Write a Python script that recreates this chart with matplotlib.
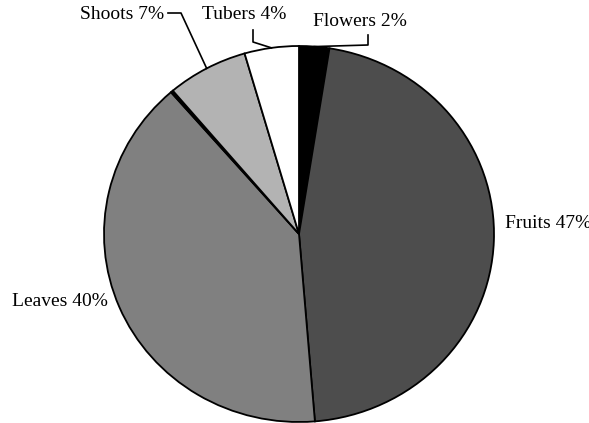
import numpy as np
import matplotlib
matplotlib.use("Agg")
import matplotlib.pyplot as plt

# Data (clockwise from 12 o'clock)
categories = ["Flowers", "Fruits", "Leaves", "", "Shoots", "Tubers"]
shares = [2.5, 46.2, 39.9, 0.2, 6.7, 4.5]
labels = ["Flowers 2%", "Fruits 47%", "Leaves 40%", "", "Shoots 7%", "Tubers 4%"]
colors = ["#000000", "#4d4d4d", "#808080", "#000000", "#b3b3b3", "#ffffff"]

W, H = 589, 423
fig = plt.figure(figsize=(W / 100, H / 100), dpi=100)
# pie bounding box in pixels
px0, px1, py0, py1 = 104, 494, 46, 422
ax = fig.add_axes([px0 / W, (H - py1) / H, (px1 - px0) / W, (py1 - py0) / H])

wedges, _ = ax.pie(shares, colors=colors, startangle=90, counterclock=False,
                   wedgeprops=dict(edgecolor="black", linewidth=1.3))
ax.set_aspect("auto")
ax.set_xlim(-1, 1)
ax.set_ylim(-1, 1)
ax.axis("off")

cx, cy = (px0 + px1) / 2, (py0 + py1) / 2
rx, ry = (px1 - px0) / 2, (py1 - py0) / 2


def to_data(px, py):
    return (px - cx) / rx, (cy - py) / ry


def edge_point(i):
    w = wedges[i]
    ang = np.deg2rad((w.theta1 + w.theta2) / 2)
    return np.cos(ang), np.sin(ang)


font = dict(family="Liberation Serif", fontsize=14, color="black")
lw = 1.2

# Flowers
ex, ey = edge_point(0)
p1 = to_data(368, 45)
p2 = to_data(368, 35)
ax.plot([ex, p1[0], p2[0]], [ey, p1[1], p2[1]], color="black", lw=lw, clip_on=False)
t = to_data(360, 22)
ax.text(t[0], t[1], labels[0], ha="center", va="center", **font)

# Tubers
ex, ey = edge_point(5)
p1 = to_data(253, 42)
p2 = to_data(253, 30)
ax.plot([ex, p1[0], p2[0]], [ey, p1[1], p2[1]], color="black", lw=lw, clip_on=False)
t = to_data(244, 15)
ax.text(t[0], t[1], labels[5], ha="center", va="center", **font)

# Shoots
ex, ey = edge_point(4)
p1 = to_data(181, 13)
p2 = to_data(168, 13)
ax.plot([ex, p1[0], p2[0]], [ey, p1[1], p2[1]], color="black", lw=lw, clip_on=False)
t = to_data(164, 15)
ax.text(t[0], t[1], labels[4], ha="right", va="center", **font)

# Fruits
t = to_data(505, 223)
ax.text(t[0], t[1], labels[1], ha="left", va="center", **font)

# Leaves
t = to_data(12, 301)
ax.text(t[0], t[1], labels[2], ha="left", va="center", **font)

fig.savefig("out.png", dpi=100)
